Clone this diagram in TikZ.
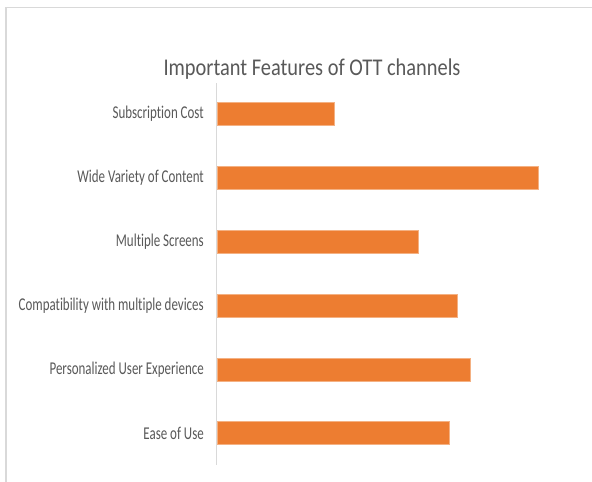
\documentclass[tikz,border=0pt]{standalone}
\usepackage{fontspec}
\setmainfont{Carlito}[Ligatures=NoCommon]
\definecolor{barc}{HTML}{ED7D31}
\definecolor{txt}{HTML}{595959}
\definecolor{frame}{HTML}{D9D9D9}
\begin{document}
\begin{tikzpicture}[x=1pt,y=-1pt,
  bar/.style={fill=barc,draw=barc!60!white,line width=0.4pt,inner sep=0pt,minimum height=23pt,anchor=west},
  lab/.style={anchor=east,text=txt,inner sep=0pt,font=\fontsize{18}{20}\selectfont},
  ttl/.style={anchor=base,text=txt,inner sep=0pt,font=\fontsize{24}{28}\selectfont}]
\useasboundingbox (0,0) rectangle (592,482);
\fill[white] (0,0) rectangle (592,482);
\coordinate (ftop) at (592,7.5);
\coordinate (fcorner) at (6,7.5);
\coordinate (fbot) at (6,482);
\draw[frame,line width=1.5pt] (ftop) -- (fcorner) -- (fbot);
\node[ttl] (title) at (312,75) {\scalebox{0.85}[1]{Important Features of OTT channels}};
\coordinate (axtop) at (216,83);
\coordinate (axbot) at (216,465);
\draw[frame,line width=1pt] (axtop) -- (axbot);
\foreach \i/\y/\e/\t in {1/113.5/334/Subscription Cost,
                         2/177.5/538/Wide Variety of Content,
                         3/241.5/418/Multiple Screens,
                         4/305.5/457/Compatibility with multiple devices,
                         5/369.5/470/Personalized User Experience,
                         6/433.0/449/Ease of Use}{
  \pgfmathsetmacro\w{\e-216.5}
  \node[bar,minimum width=\w pt] (b\i) at (216.5,\y) {};
  \node[lab] (l\i) at (204,\y) {\scalebox{0.72}[1]{\t}};
}
\end{tikzpicture}
\end{document}
